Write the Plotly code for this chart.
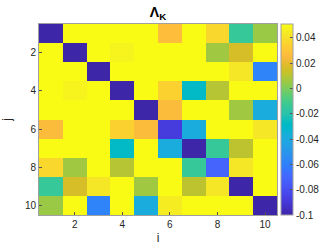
import plotly.graph_objects as go

i_vals = [1, 2, 3, 4, 5, 6, 7, 8, 9, 10]
j_vals = [1, 2, 3, 4, 5, 6, 7, 8, 9, 10]

Y = 0.052
row1 = [-0.1, Y, Y, Y, Y, 0.027, Y, 0.037, -0.014, 0.005]
row2 = [Y, -0.1, Y, 0.048, Y, Y, Y, 0.006, 0.016, Y]
row3 = [Y, Y, -0.1, Y, Y, Y, Y, Y, 0.043, -0.058]
row4 = [Y, 0.048, Y, -0.1, Y, 0.035, -0.029, 0.0095, Y, Y]
row5 = [Y, Y, Y, Y, -0.1, 0.026, Y, Y, 0.006, -0.038]
row6 = [0.026, Y, Y, 0.035, 0.026, -0.088, -0.038, Y, Y, 0.043]
row7 = [Y, Y, Y, -0.029, Y, -0.038, -0.1, -0.014, 0.011, Y]
row8 = [0.037, 0.006, Y, 0.0095, Y, Y, -0.014, -0.071, 0.043, Y]
row9 = [-0.014, 0.016, 0.043, Y, 0.006, Y, 0.011, 0.043, -0.1, Y]
row10 = [0.005, Y, -0.058, Y, -0.038, 0.045, Y, Y, Y, -0.1]
z = [row1, row2, row3, row4, row5, row6, row7, row8, row9, row10]

axis_ticks = [2, 4, 6, 8, 10]
cbar_ticks = [0.04, 0.02, 0, -0.02, -0.04, -0.06, -0.08, -0.1]
cbar_text = ["0.04", "0.02", "0", "-0.02", "-0.04", "-0.06", "-0.08", "-0.1"]

parula = [
    (0.2422, 0.1504, 0.6603), (0.2504, 0.1650, 0.7076), (0.2578, 0.1818, 0.7511),
    (0.2647, 0.1978, 0.7952), (0.2706, 0.2147, 0.8364), (0.2751, 0.2342, 0.8710),
    (0.2783, 0.2559, 0.8991), (0.2803, 0.2782, 0.9221), (0.2813, 0.3006, 0.9414),
    (0.2810, 0.3228, 0.9579), (0.2795, 0.3447, 0.9717), (0.2760, 0.3667, 0.9829),
    (0.2699, 0.3892, 0.9906), (0.2602, 0.4123, 0.9952), (0.2440, 0.4358, 0.9988),
    (0.2206, 0.4603, 0.9973), (0.1963, 0.4847, 0.9892), (0.1834, 0.5074, 0.9798),
    (0.1786, 0.5289, 0.9682), (0.1764, 0.5499, 0.9520), (0.1687, 0.5703, 0.9359),
    (0.1540, 0.5902, 0.9218), (0.1460, 0.6091, 0.9079), (0.1380, 0.6276, 0.8973),
    (0.1248, 0.6459, 0.8883), (0.1113, 0.6635, 0.8763), (0.0952, 0.6798, 0.8598),
    (0.0689, 0.6948, 0.8394), (0.0297, 0.7082, 0.8163), (0.0036, 0.7203, 0.7917),
    (0.0067, 0.7312, 0.7660), (0.0433, 0.7411, 0.7394), (0.0964, 0.7500, 0.7120),
    (0.1408, 0.7584, 0.6842), (0.1717, 0.7670, 0.6554), (0.1938, 0.7758, 0.6251),
    (0.2161, 0.7843, 0.5923), (0.2470, 0.7918, 0.5567), (0.2906, 0.7973, 0.5188),
    (0.3406, 0.8008, 0.4789), (0.3909, 0.8029, 0.4354), (0.4456, 0.8024, 0.3909),
    (0.5044, 0.7993, 0.3480), (0.5616, 0.7942, 0.3045), (0.6174, 0.7876, 0.2612),
    (0.6720, 0.7793, 0.2227), (0.7242, 0.7698, 0.1910), (0.7738, 0.7598, 0.1646),
    (0.8203, 0.7498, 0.1535), (0.8634, 0.7406, 0.1596), (0.9035, 0.7330, 0.1774),
    (0.9393, 0.7288, 0.2100), (0.9728, 0.7298, 0.2394), (0.9956, 0.7434, 0.2371),
    (0.9970, 0.7659, 0.2199), (0.9952, 0.7893, 0.2028), (0.9892, 0.8136, 0.1885),
    (0.9786, 0.8386, 0.1766), (0.9676, 0.8639, 0.1643), (0.9610, 0.8890, 0.1537),
    (0.9597, 0.9135, 0.1423), (0.9628, 0.9373, 0.1265), (0.9691, 0.9606, 0.1064),
    (0.9769, 0.9839, 0.0805),
]
n = len(parula)
colorscale = [
    [k / (n - 1), "rgb(%d,%d,%d)" % (round(r * 255), round(g * 255), round(b * 255))]
    for k, (r, g, b) in enumerate(parula)
]

font = "Liberation Sans, Arial, sans-serif"

fig = go.Figure(
    go.Heatmap(
        x=i_vals,
        y=j_vals,
        z=z,
        zmin=-0.1,
        zmax=0.051,
        colorscale=colorscale,
        colorbar=dict(
            x=1.017,
            xanchor="left",
            xpad=0,
            ypad=0,
            y=0.5,
            yanchor="middle",
            len=1,
            lenmode="fraction",
            thickness=12,
            outlinewidth=1,
            outlinecolor="#a0a0a0",
            tickvals=cbar_ticks,
            ticktext=cbar_text,
            ticks="inside",
            ticklen=3,
            tickcolor="#555555",
            tickfont=dict(family=font, size=10, color="#262626"),
        ),
    )
)

axis_common = dict(
    tickvals=axis_ticks,
    ticks="inside",
    ticklen=3,
    tickcolor="#555555",
    showline=True,
    linecolor="#a0a0a0",
    linewidth=1,
    mirror=True,
    showgrid=False,
    zeroline=False,
    automargin=False,
    tickfont=dict(family=font, size=10, color="#262626"),
)

fig.update_layout(
    width=332,
    height=249,
    margin=dict(l=39, r=55, t=24, b=34, autoexpand=False),
    paper_bgcolor="white",
    plot_bgcolor="white",
    title=dict(
        text="<b>Λ<sub>K</sub></b>",
        x=(39 + 277) / 2 / 332,
        xanchor="center",
        y=1 - 12 / 249,
        yanchor="middle",
        font=dict(family=font, size=14, color="black"),
    ),
    xaxis=dict(
        range=[0.5, 10.5],
        title=dict(text="i", standoff=4, font=dict(family=font, size=12, color="#262626")),
        **axis_common,
    ),
    yaxis=dict(
        range=[10.5, 0.5],
        title=dict(text="j", standoff=14, font=dict(family=font, size=12, color="#262626")),
        **axis_common,
    ),
)

fig.write_html(
    "out.html",
    config={"displayModeBar": False},
    post_script="document.body.style.margin='0';",
)
